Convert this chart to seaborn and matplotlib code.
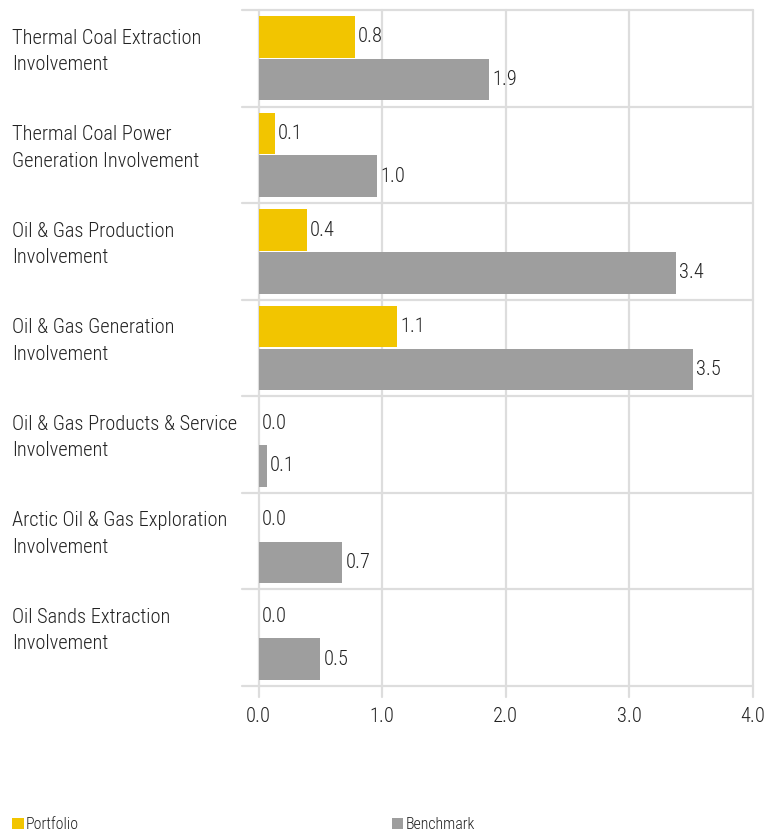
import matplotlib
matplotlib.use("Agg")
import matplotlib.pyplot as plt
import matplotlib.transforms as mtransforms
from matplotlib import font_manager as fm
from matplotlib.patches import Patch
from matplotlib.textpath import TextToPath
import seaborn as sns
import pandas as pd

# ---------------- data ----------------
categories = [
    "Thermal Coal Extraction\nInvolvement",
    "Thermal Coal Power\nGeneration Involvement",
    "Oil & Gas Production\nInvolvement",
    "Oil & Gas Generation\nInvolvement",
    "Oil & Gas Products & Service\nInvolvement",
    "Arctic Oil & Gas Exploration\nInvolvement",
    "Oil Sands Extraction\nInvolvement",
]
series_names = ["Portfolio", "Benchmark"]
portfolio = [0.78, 0.13, 0.39, 1.12, 0.0, 0.0, 0.0]
benchmark = [1.87, 0.96, 3.38, 3.52, 0.07, 0.68, 0.50]
x_ticks = [0, 1, 2, 3, 4]
x_tick_labels = ["0.0", "1.0", "2.0", "3.0", "4.0"]

YELLOW = "#F2C500"
GREY = "#9E9E9E"
GRID = "#DDDDDD"
TEXT = "#222222"

sns.set_theme(style="white")

# ---------------- font selection ----------------
def _w(e):
    w = e.weight
    if isinstance(w, str):
        return {"light": 300, "normal": 400, "regular": 400}.get(w, 400)
    return w

def pick_font():
    entries = fm.fontManager.ttflist
    prefs = ["Roboto Condensed", "Liberation Sans Narrow", "Open Sans Condensed",
             "Noto Sans Condensed", "DejaVu Sans Condensed"]
    for want in (300, 400):
        for p in prefs:
            for e in entries:
                if e.name == p and e.style == "normal" and _w(e) == want:
                    return e.fname
    for e in entries:
        if (("Condensed" in e.name or "Narrow" in e.name or e.stretch in ("condensed", "semi-condensed"))
                and e.style == "normal" and _w(e) == 400
                and "Mono" not in e.name and "Serif" not in e.name and "CJK" not in e.name):
            return e.fname
    return None

fname = pick_font()
if fname:
    base_fp = fm.FontProperties(fname=fname)
else:
    base_fp = fm.FontProperties(family="Roboto")

t2p = TextToPath()

def text_px(s, size):
    pr = base_fp.copy()
    pr.set_size(size)
    w, _, _ = t2p.get_text_width_height_descent(s, pr, ismath=False)
    return w * 100 / 72

# fit text sizes by measured widths in the reference
label_size = min(15.5, 10 * 225 / text_px("Oil & Gas Products & Service", 10))
legend_size = min(14.0, 10 * 53 / text_px("Portfolio", 10))

def fp(size):
    f = base_fp.copy()
    f.set_size(size)
    return f

# ---------------- figure ----------------
W, H = 765, 832
fig = plt.figure(figsize=(W / 100, H / 100), dpi=100)
x0, x4 = 258.5, 752.5
y_top, y_bot = 10, 686
ax = fig.add_axes([x0 / W, 1 - y_bot / H, (x4 - x0) / W, (y_bot - y_top) / H])

df = pd.DataFrame({
    "category": categories * 2,
    "series": [series_names[0]] * len(categories) + [series_names[1]] * len(categories),
    "value": portfolio + benchmark,
})

sns.barplot(data=df, y="category", x="value", hue="series", orient="h",
            palette=[YELLOW, GREY], saturation=1, width=0.885, gap=0.03, linewidth=0,
            legend=False, ax=ax, zorder=2)

n = len(categories)
ax.set_xlim(0, 4)
ax.set_ylim(n - 0.5, -0.5)
for s in ax.spines.values():
    s.set_visible(False)
ax.set_xlabel("")
ax.set_ylabel("")
ax.set_yticks([])
ax.set_xticks(x_ticks)
ax.set_xticklabels(x_tick_labels)
ax.tick_params(axis="x", length=0, pad=15, colors=TEXT)
for lbl in ax.get_xticklabels():
    lbl.set_fontproperties(fp(label_size))
    lbl.set_color(TEXT)

# grid: vertical lines extend below the plot, horizontal separators extend left
ext_down = 11 / (y_bot - y_top)
ext_left = 16.5 / (x4 - x0)
for xv in x_ticks:
    ax.axvline(xv, ymin=-ext_down, ymax=1, color=GRID, lw=1.6, clip_on=False, zorder=0.5)
for i in range(n + 1):
    ax.axhline(i - 0.5, xmin=-ext_left, xmax=1, color=GRID, lw=1.6, clip_on=False, zorder=0.5)

# value labels
for cont in ax.containers:
    texts = ax.bar_label(cont, fmt="%.1f", padding=2.2, color=TEXT)
    for t in texts:
        t.set_fontproperties(fp(label_size))

# category labels
unit_px = (y_bot - y_top) / n
trans = mtransforms.blended_transform_factory(fig.transFigure, ax.transData)
for i, cat in enumerate(categories):
    for k, line in enumerate(cat.split("\n")):
        yb = i - 0.5 + (33.5 + 26.5 * k) / unit_px
        ax.text(12 / W, yb, line, transform=trans, ha="left", va="baseline",
                fontproperties=fp(label_size), color=TEXT)

# legend
fs_px = legend_size * 100 / 72
gap_px = 392 - (26 + text_px("Portfolio", legend_size))
handles = [Patch(facecolor=YELLOW, edgecolor="none"), Patch(facecolor=GREY, edgecolor="none")]
leg = fig.legend(handles, series_names, loc="lower left", bbox_to_anchor=(12 / W, 0.0 / H),
                 ncol=2, frameon=False, prop=fp(legend_size),
                 handlelength=11.5 / fs_px, handleheight=11.5 / fs_px, handletextpad=2.3 / fs_px,
                 columnspacing=gap_px / fs_px, borderaxespad=0, borderpad=0)
for t in leg.get_texts():
    t.set_color(TEXT)

fig.savefig("out.png", dpi=100)
